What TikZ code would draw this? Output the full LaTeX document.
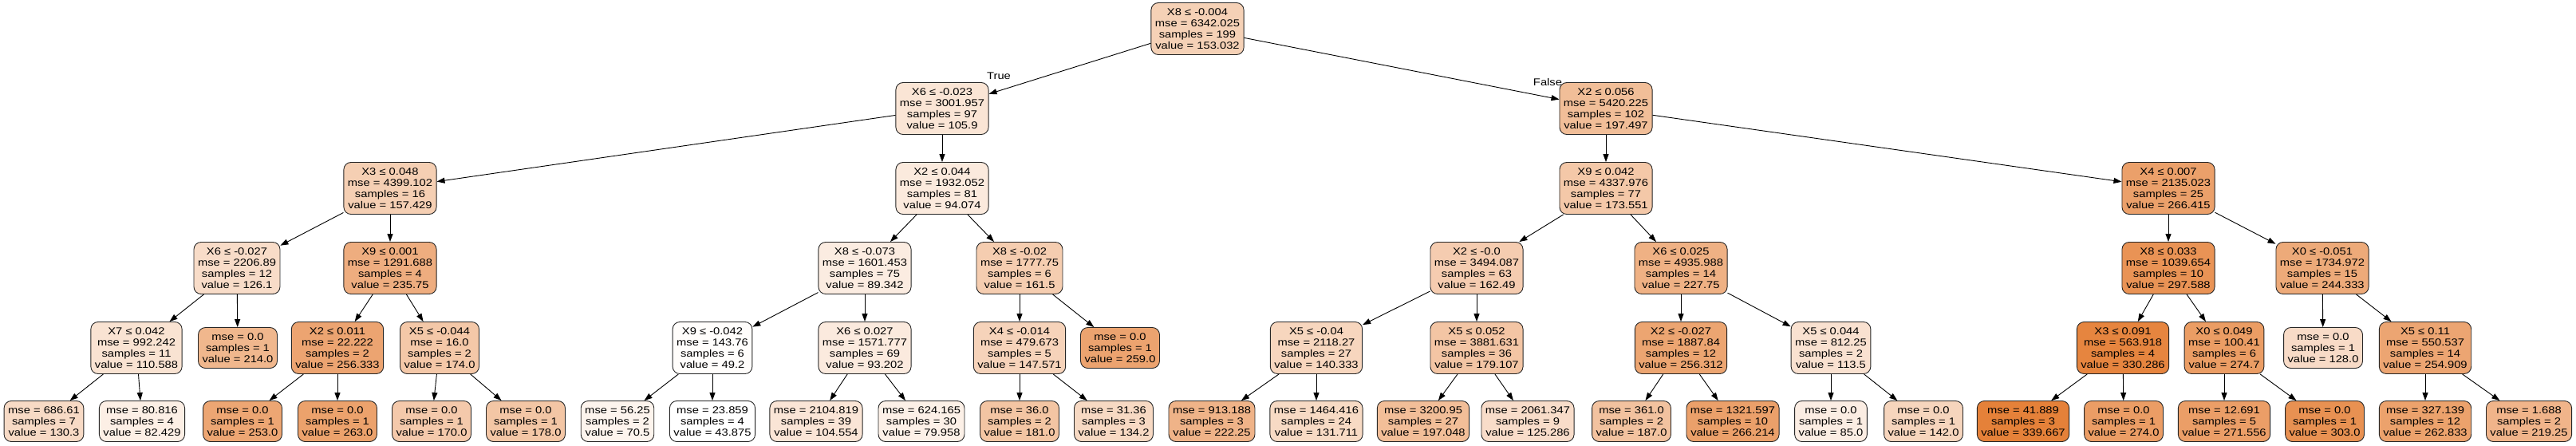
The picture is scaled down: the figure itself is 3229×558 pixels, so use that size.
\documentclass[tikz,border=0pt]{standalone}
\usepackage{fontspec}
\setmainfont{Liberation Sans}[FakeStretch=1.17]
\usetikzlibrary{arrows.meta}
\definecolor{dtorange}{RGB}{229,129,57}
\newcommand{\dtfont}{\fontsize{12.6}{14}\selectfont}
\tikzset{
  val/.code={\pgfmathsetmacro\dtpct{(#1-43.875)/2.95792}\colorlet{dtfillc}{dtorange!\dtpct!white}\pgfkeysalso{fill=dtfillc}},
  tnode/.style={draw=black!85, line width=0.9pt, rounded corners=9pt, align=center,
    font=\dtfont, inner xsep=5pt, inner ysep=2pt, minimum height=65pt},
  leafbox/.style={minimum height=51pt},
  edge/.style={draw=black, line width=0.9pt, -{Triangle[length=10pt,width=7pt]}},
  elabel/.style={font=\dtfont, inner sep=0pt}
}
\newcommand{\dtsplit}[7]{\node[tnode, val=#7] (#1) at (#2,#3) {#4\\mse = #5\\samples = #6\\value = #7};}
\newcommand{\dtleaf}[6]{\node[tnode, leafbox, val=#6] (#1) at (#2,#3) {mse = #4\\samples = #5\\value = #6};}
\begin{document}
\begin{tikzpicture}[x=1pt,y=-1pt]
\useasboundingbox (0,0) rectangle (3229,558);
% level 0
\dtsplit{n0}{1501}{36}{X8 ≤ -0.004}{6342.025}{199}{153.032}
% level 1
\dtsplit{n1}{1181}{136}{X6 ≤ -0.023}{3001.957}{97}{105.9}
\dtsplit{n2}{2013}{136}{X2 ≤ 0.056}{5420.225}{102}{197.497}
% level 2
\dtsplit{n3}{489}{236}{X3 ≤ 0.048}{4399.102}{16}{157.429}
\dtsplit{n4}{1181}{236}{X2 ≤ 0.044}{1932.052}{81}{94.074}
\dtsplit{n5}{2013}{236}{X9 ≤ 0.042}{4337.976}{77}{173.551}
\dtsplit{n6}{2718}{236}{X4 ≤ 0.007}{2135.023}{25}{266.415}
% level 3
\dtsplit{n7}{297}{336}{X6 ≤ -0.027}{2206.89}{12}{126.1}
\dtsplit{n8}{489}{336}{X9 ≤ 0.001}{1291.688}{4}{235.75}
\dtsplit{n9}{1084}{336}{X8 ≤ -0.073}{1601.453}{75}{89.342}
\dtsplit{n10}{1278}{336}{X8 ≤ -0.02}{1777.75}{6}{161.5}
\dtsplit{n11}{1851}{336}{X2 ≤ -0.0}{3494.087}{63}{162.49}
\dtsplit{n12}{2107}{336}{X6 ≤ 0.025}{4935.988}{14}{227.75}
\dtsplit{n13}{2718}{336}{X8 ≤ 0.033}{1039.654}{10}{297.588}
\dtsplit{n14}{2911}{336}{X0 ≤ -0.051}{1734.972}{15}{244.333}
% level 4
\dtsplit{n15}{171}{436}{X7 ≤ 0.042}{992.242}{11}{110.588}
\dtleaf{n16}{298}{436}{0.0}{1}{214.0}
\dtsplit{n17}{423}{436}{X2 ≤ 0.011}{22.222}{2}{256.333}
\dtsplit{n18}{551}{436}{X5 ≤ -0.044}{16.0}{2}{174.0}
\dtsplit{n19}{893}{436}{X9 ≤ -0.042}{143.76}{6}{49.2}
\dtsplit{n20}{1084}{436}{X6 ≤ 0.027}{1571.777}{69}{93.202}
\dtsplit{n21}{1278}{436}{X4 ≤ -0.014}{479.673}{5}{147.571}
\dtleaf{n22}{1404}{436}{0.0}{1}{259.0}
\dtsplit{n23}{1650}{436}{X5 ≤ -0.04}{2118.27}{27}{140.333}
\dtsplit{n24}{1851}{436}{X5 ≤ 0.052}{3881.631}{36}{179.107}
\dtsplit{n25}{2107}{436}{X2 ≤ -0.027}{1887.84}{12}{256.312}
\dtsplit{n26}{2295}{436}{X5 ≤ 0.044}{812.25}{2}{113.5}
\dtsplit{n27}{2661}{436}{X3 ≤ 0.091}{563.918}{4}{330.286}
\dtsplit{n28}{2788}{436}{X0 ≤ 0.049}{100.41}{6}{274.7}
\dtleaf{n29}{2912}{436}{0.0}{1}{128.0}
\dtsplit{n30}{3040}{436}{X5 ≤ 0.11}{550.537}{14}{254.909}
% level 5
\dtleaf{m1}{55}{528}{686.61}{7}{130.3}
\dtleaf{m2}{178}{528}{80.816}{4}{82.429}
\dtleaf{m3}{304}{528}{0.0}{1}{253.0}
\dtleaf{m4}{423}{528}{0.0}{1}{263.0}
\dtleaf{m5}{541}{528}{0.0}{1}{170.0}
\dtleaf{m6}{659}{528}{0.0}{1}{178.0}
\dtleaf{m7}{774}{528}{56.25}{2}{70.5}
\dtleaf{m8}{893}{528}{23.859}{4}{43.875}
\dtleaf{m9}{1023}{528}{2104.819}{39}{104.554}
\dtleaf{m10}{1155}{528}{624.165}{30}{79.958}
\dtleaf{m11}{1278}{528}{36.0}{2}{181.0}
\dtleaf{m12}{1396}{528}{31.36}{3}{134.2}
\dtleaf{m13}{1519}{528}{913.188}{3}{222.25}
\dtleaf{m14}{1650}{528}{1464.416}{24}{131.711}
\dtleaf{m15}{1784}{528}{3200.95}{27}{197.048}
\dtleaf{m16}{1915}{528}{2061.347}{9}{125.286}
\dtleaf{m17}{2045}{528}{361.0}{2}{187.0}
\dtleaf{m18}{2172}{528}{1321.597}{10}{266.214}
\dtleaf{m19}{2295}{528}{0.0}{1}{85.0}
\dtleaf{m20}{2411}{528}{0.0}{1}{142.0}
\dtleaf{m21}{2536}{528}{41.889}{3}{339.667}
\dtleaf{m22}{2662}{528}{0.0}{1}{274.0}
\dtleaf{m23}{2788}{528}{12.691}{5}{271.556}
\dtleaf{m24}{2914}{528}{0.0}{1}{303.0}
\dtleaf{m25}{3040}{528}{327.139}{12}{262.833}
\dtleaf{m26}{3170}{528}{1.688}{2}{219.25}
% edge labels
\node[elabel] (lt) at (1252,95) {True};
\node[elabel] (lf) at (1940,103) {False};
% edges
\draw[edge] (n0) -- (n1);
\draw[edge] (n0) -- (n2);
\draw[edge] (n1) -- (n3);
\draw[edge] (n1) -- (n4);
\draw[edge] (n2) -- (n5);
\draw[edge] (n2) -- (n6);
\draw[edge] (n3) -- (n7);
\draw[edge] (n3) -- (n8);
\draw[edge] (n4) -- (n9);
\draw[edge] (n4) -- (n10);
\draw[edge] (n5) -- (n11);
\draw[edge] (n5) -- (n12);
\draw[edge] (n6) -- (n13);
\draw[edge] (n6) -- (n14);
\draw[edge] (n7) -- (n15);
\draw[edge] (n7) -- (n16);
\draw[edge] (n8) -- (n17);
\draw[edge] (n8) -- (n18);
\draw[edge] (n9) -- (n19);
\draw[edge] (n9) -- (n20);
\draw[edge] (n10) -- (n21);
\draw[edge] (n10) -- (n22);
\draw[edge] (n11) -- (n23);
\draw[edge] (n11) -- (n24);
\draw[edge] (n12) -- (n25);
\draw[edge] (n12) -- (n26);
\draw[edge] (n13) -- (n27);
\draw[edge] (n13) -- (n28);
\draw[edge] (n14) -- (n29);
\draw[edge] (n14) -- (n30);
\draw[edge] (n15) -- (m1);
\draw[edge] (n15) -- (m2);
\draw[edge] (n17) -- (m3);
\draw[edge] (n17) -- (m4);
\draw[edge] (n18) -- (m5);
\draw[edge] (n18) -- (m6);
\draw[edge] (n19) -- (m7);
\draw[edge] (n19) -- (m8);
\draw[edge] (n20) -- (m9);
\draw[edge] (n20) -- (m10);
\draw[edge] (n21) -- (m11);
\draw[edge] (n21) -- (m12);
\draw[edge] (n23) -- (m13);
\draw[edge] (n23) -- (m14);
\draw[edge] (n24) -- (m15);
\draw[edge] (n24) -- (m16);
\draw[edge] (n25) -- (m17);
\draw[edge] (n25) -- (m18);
\draw[edge] (n26) -- (m19);
\draw[edge] (n26) -- (m20);
\draw[edge] (n27) -- (m21);
\draw[edge] (n27) -- (m22);
\draw[edge] (n28) -- (m23);
\draw[edge] (n28) -- (m24);
\draw[edge] (n30) -- (m25);
\draw[edge] (n30) -- (m26);
\end{tikzpicture}
\end{document}
